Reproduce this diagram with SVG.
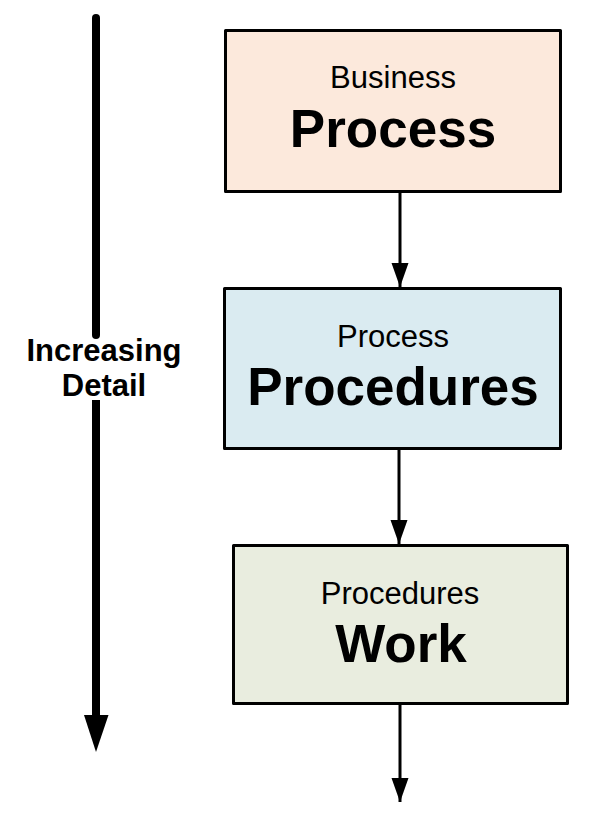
<svg xmlns="http://www.w3.org/2000/svg" width="591" height="818" viewBox="0 0 591 818">
<style>
.box{stroke:#000;stroke-width:3;stroke-linejoin:round}
.sub{font-family:"Liberation Sans",Arial,sans-serif;font-size:31px;fill:#000;text-anchor:middle}
.main{font-family:"Liberation Sans",Arial,sans-serif;font-size:53px;font-weight:bold;fill:#000;text-anchor:middle}
.lbl{font-family:"Liberation Sans",Arial,sans-serif;font-size:31px;font-weight:bold;fill:#000;text-anchor:middle}
.conn{stroke:#000;stroke-width:3;fill:none}
</style>
<defs>
<marker id="ah" markerUnits="userSpaceOnUse" markerWidth="25" markerHeight="18" refX="24" refY="9" orient="auto" viewBox="0 0 25 18">
<path d="M0,0.5 L24,9 L0,17.5 Z" fill="#000"/>
</marker>
</defs>
<g id="detail-axis">
<line x1="96" y1="18" x2="96" y2="335" stroke="#000" stroke-width="8" stroke-linecap="round"/>
<line x1="96" y1="400" x2="96" y2="716" stroke="#000" stroke-width="8"/>
<path d="M84,715 L108.5,715 L96,752 Z" fill="#000"/>
<text class="lbl" x="104" y="361">Increasing</text>
<text class="lbl" x="104" y="396">Detail</text>
</g>
<g id="connectors">
<line class="conn" x1="400" y1="193" x2="400" y2="287" marker-end="url(#ah)"/>
<line class="conn" x1="399" y1="450" x2="399" y2="544" marker-end="url(#ah)"/>
<line class="conn" x1="400" y1="705" x2="400" y2="802" marker-end="url(#ah)"/>
</g>
<g id="business-process">
<rect class="box" x="225.5" y="30.5" width="335" height="161" fill="#fce9dc"/>
<text class="sub" x="393" y="88">Business</text>
<text class="main" x="393" y="147">Process</text>
</g>
<g id="process-procedures">
<rect class="box" x="224.5" y="288.5" width="336" height="160" fill="#daebf1"/>
<text class="sub" x="393" y="347">Process</text>
<text class="main" x="393" y="405">Procedures</text>
</g>
<g id="procedures-work">
<rect class="box" x="233.5" y="545.5" width="334" height="158" fill="#e9eddf"/>
<text class="sub" x="400" y="604">Procedures</text>
<text class="main" x="401" y="662">Work</text>
</g>
</svg>
